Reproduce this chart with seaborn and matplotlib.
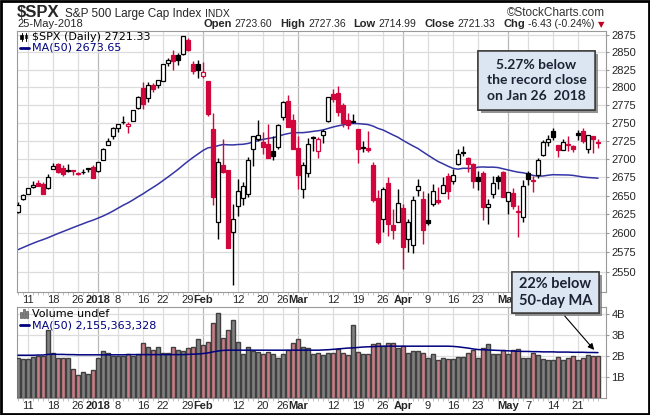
import numpy as np
import pandas as pd
import matplotlib
matplotlib.use("Agg")
import matplotlib.pyplot as plt
import matplotlib.patheffects as pe
from matplotlib.patches import Rectangle, FancyArrowPatch
from matplotlib.lines import Line2D
from matplotlib.ticker import FixedLocator, FixedFormatter, NullLocator
import seaborn as sns

# ---- data: S&P 500 daily, 7-Dec-2017 .. 25-May-2018 ----
holidays = ["2017-12-25", "2018-01-01", "2018-01-15", "2018-02-19", "2018-03-30"]
days = pd.bdate_range("2017-12-07", "2018-05-25").difference(pd.to_datetime(holidays))

# closes before the window (28-Sep .. 6-Dec-2017), only used for the 50-day MA
pre_closes = [2510.06, 2519.36,
              2529.12, 2534.58, 2537.74, 2552.07, 2549.33, 2544.73, 2550.64, 2555.24, 2550.93, 2553.17,
              2557.64, 2559.36, 2561.26, 2562.10, 2575.21, 2564.98, 2569.13, 2557.15, 2560.40, 2581.07,
              2572.83, 2575.26,
              2579.36, 2579.85, 2587.84, 2591.13, 2590.64, 2594.38, 2584.62, 2582.30, 2584.84, 2578.87,
              2564.62, 2585.64, 2578.85, 2582.14, 2599.03, 2597.08, 2602.42, 2601.42, 2627.04, 2626.07,
              2647.58,
              2642.22, 2639.44, 2629.57, 2629.27]

opens = [2628.4, 2646.2, 2652.2, 2661.7, 2667.6, 2665.9, 2660.6, 2685.9, 2692.7, 2688.2, 2683.0, 2684.2,
         2679.1, 2682.1, 2686.1, 2689.2,
         2683.7, 2697.9, 2719.3, 2731.3, 2742.7, 2751.2, 2745.6, 2753.0, 2770.2, 2799.0, 2785.0, 2802.4,
         2802.6, 2809.2, 2835.1, 2845.4, 2846.2, 2847.5, 2867.2, 2832.7, 2832.4,
         2816.5, 2808.9, 2741.1, 2614.8, 2691.0, 2685.0, 2601.8, 2636.8, 2646.3, 2651.8, 2713.5, 2727.1,
         2723.0, 2720.5, 2710.4, 2715.8, 2757.4, 2780.5, 2753.8,
         2715.2, 2658.9, 2681.1, 2730.2, 2710.2, 2732.8, 2752.9, 2790.5, 2792.3, 2774.1, 2754.3, 2750.6,
         2741.4, 2715.1, 2715.0, 2691.4, 2646.7, 2619.4, 2667.6, 2611.3, 2614.4,
         2633.5, 2592.2, 2584.0, 2657.4, 2645.8, 2617.2, 2638.4, 2643.9, 2653.8, 2676.9, 2670.1, 2692.7,
         2710.1, 2701.2, 2692.6, 2675.4, 2680.8, 2634.9, 2651.7, 2675.5, 2682.5,
         2643.0, 2654.2, 2628.1, 2621.5, 2680.3, 2670.3, 2678.1, 2705.0, 2722.7, 2738.5, 2718.6, 2712.6,
         2719.7, 2717.4, 2735.4, 2738.3, 2714.0, 2730.9, 2723.60]
highs = [2641.0, 2651.7, 2660.3, 2669.7, 2671.9, 2668.1, 2679.6, 2695.0, 2694.4, 2691.0, 2692.6, 2685.4,
         2682.7, 2685.6, 2687.7, 2692.1,
         2695.9, 2714.4, 2729.3, 2743.5, 2748.5, 2759.1, 2750.8, 2767.6, 2787.9, 2807.5, 2807.0, 2805.8,
         2810.3, 2833.0, 2842.2, 2853.0, 2848.6, 2872.9, 2870.6, 2837.8, 2839.3,
         2836.0, 2808.9, 2763.4, 2701.0, 2727.7, 2685.3, 2638.7, 2672.6, 2668.8, 2702.1, 2731.5, 2754.4,
         2737.6, 2747.8, 2731.3, 2747.8, 2780.0, 2789.2, 2761.5,
         2730.9, 2696.3, 2728.1, 2732.1, 2730.6, 2740.5, 2786.6, 2797.0, 2801.9, 2777.1, 2763.0, 2761.9,
         2741.4, 2724.2, 2739.1, 2695.7, 2657.7, 2661.4, 2674.8, 2632.7, 2659.1,
         2638.3, 2619.1, 2649.9, 2672.1, 2656.9, 2653.6, 2665.5, 2661.4, 2674.7, 2680.3, 2686.5, 2713.3,
         2717.5, 2702.8, 2693.9, 2682.9, 2683.6, 2645.3, 2676.5, 2677.4, 2682.9,
         2655.3, 2660.9, 2637.1, 2670.9, 2683.4, 2676.3, 2701.3, 2726.1, 2732.9, 2742.1, 2718.6, 2727.0,
         2732.0, 2719.5, 2739.2, 2742.2, 2733.3, 2732.0, 2727.36]
lows = [2626.5, 2644.1, 2652.0, 2659.8, 2662.9, 2652.0, 2659.1, 2685.9, 2680.7, 2676.1, 2682.4, 2678.1,
        2678.0, 2678.9, 2682.7, 2673.6,
        2682.4, 2697.8, 2719.1, 2727.9, 2737.6, 2747.9, 2736.1, 2752.8, 2769.6, 2768.6, 2778.4, 2792.6,
        2798.1, 2808.1, 2830.6, 2824.8, 2830.9, 2846.2, 2851.5, 2818.3, 2813.0,
        2812.7, 2760.0, 2638.2, 2593.1, 2681.3, 2580.6, 2532.7, 2622.5, 2637.1, 2648.9, 2689.8, 2725.1,
        2706.8, 2701.3, 2697.8, 2713.7, 2753.8, 2744.2, 2713.5,
        2659.7, 2647.3, 2675.8, 2711.3, 2701.7, 2721.2, 2751.5, 2779.3, 2758.7, 2744.4, 2741.5, 2750.0,
        2694.6, 2710.1, 2709.8, 2641.6, 2585.9, 2601.8, 2596.1, 2593.1, 2614.4,
        2553.8, 2575.5, 2573.6, 2649.6, 2586.3, 2610.8, 2635.8, 2639.3, 2653.8, 2645.1, 2665.2, 2692.1,
        2703.6, 2681.9, 2660.6, 2658.0, 2617.3, 2612.7, 2647.2, 2659.0, 2648.0,
        2625.4, 2631.7, 2594.6, 2615.3, 2664.7, 2655.2, 2674.1, 2704.5, 2717.5, 2725.5, 2701.9, 2712.2,
        2711.4, 2709.2, 2725.7, 2721.9, 2707.4, 2707.4, 2714.99]
closes = [2637.0, 2651.5, 2660.0, 2664.1, 2662.9, 2652.0, 2675.8, 2690.2, 2681.5, 2679.3, 2684.6, 2683.3,
          2680.5, 2682.6, 2687.5, 2673.6,
          2695.8, 2713.1, 2724.0, 2743.2, 2747.7, 2751.3, 2748.2, 2767.6, 2786.2, 2776.4, 2802.6, 2798.0,
          2810.3, 2833.0, 2839.1, 2837.5, 2839.3, 2872.9, 2853.5, 2822.4, 2823.8,
          2822.0, 2762.1, 2648.9, 2695.1, 2681.7, 2581.0, 2619.6, 2656.0, 2662.9, 2698.6, 2731.2, 2732.2,
          2716.3, 2701.3, 2704.0, 2747.3, 2779.6, 2744.3, 2713.8,
          2677.7, 2691.3, 2720.9, 2728.1, 2726.8, 2739.0, 2786.6, 2783.0, 2765.3, 2749.5, 2747.3, 2752.0,
          2712.9, 2716.9, 2711.9, 2643.7, 2588.3, 2658.6, 2612.6, 2605.0, 2640.9,
          2581.9, 2614.5, 2644.7, 2662.8, 2604.5, 2613.2, 2656.9, 2642.2, 2664.0, 2656.3, 2677.8, 2706.4,
          2708.6, 2693.1, 2670.1, 2670.3, 2634.6, 2639.4, 2666.9, 2669.9, 2648.1,
          2654.8, 2635.7, 2629.7, 2663.4, 2672.6, 2671.9, 2697.8, 2723.1, 2727.7, 2730.1, 2711.5, 2722.5,
          2720.1, 2713.0, 2733.0, 2724.4, 2733.3, 2727.76, 2721.33]

# volume in billions
volume_b = [1.92, 1.83, 1.83, 1.95, 1.99, 1.99, 3.22, 2.16, 1.92, 1.92, 1.92, 1.40, 1.07, 1.22, 1.13, 1.35,
            1.88, 2.22, 2.16, 1.99, 1.99, 1.99, 2.08, 1.99, 2.11, 2.59, 2.40, 2.30, 2.40, 2.16, 2.16, 2.43,
            2.30, 2.24, 2.35, 2.40, 2.78, 2.50, 2.67, 3.54, 4.02, 2.83, 3.22, 3.70, 2.64, 2.08, 2.40, 2.24,
            2.19, 2.11, 2.19, 2.11, 1.88, 2.11, 2.30, 2.59, 2.78, 2.40, 2.35, 2.08, 2.16, 2.03, 2.16, 2.16,
            2.32, 2.16, 2.03, 3.46, 2.19, 2.11, 2.11, 2.54, 2.59, 2.49, 2.59, 2.62, 2.35, 2.46, 2.16, 2.22,
            2.22, 2.16, 1.88, 2.11, 1.80, 1.88, 1.83, 1.83, 1.96, 1.96, 2.14, 2.27, 1.88, 2.38, 2.54, 2.07,
            2.11, 2.30, 2.11, 2.30, 2.33, 1.92, 1.92, 2.14, 2.05, 1.85, 1.80, 1.80, 1.95, 1.80, 1.90, 1.98,
            1.80, 1.90, 2.05, 1.98, 2.00]
# 50-day volume MA
vol_ma_b = [2.03, 2.03, 2.03, 2.03, 2.04, 2.04, 2.07, 2.08,
            2.07, 2.07, 2.06, 2.06, 2.05, 2.05, 2.05, 2.05, 2.05, 2.05, 2.05, 2.05, 2.05, 2.05, 2.06, 2.06,
            2.06, 2.06, 2.06, 2.06, 2.06, 2.06, 2.06, 2.06, 2.06, 2.06, 2.07,
            2.08, 2.09, 2.11, 2.14, 2.19, 2.23, 2.26, 2.27,
            2.27, 2.27, 2.27, 2.27, 2.27, 2.27, 2.27, 2.27, 2.27, 2.27, 2.27, 2.27, 2.27, 2.27, 2.27, 2.27,
            2.27, 2.27,
            2.28, 2.29, 2.31, 2.33, 2.35, 2.37, 2.38, 2.40, 2.42, 2.43, 2.44, 2.45, 2.46,
            2.46, 2.46, 2.46, 2.46, 2.46, 2.46, 2.46, 2.46, 2.46, 2.46, 2.46, 2.46, 2.46,
            2.45, 2.43, 2.40, 2.37, 2.33, 2.30,
            2.29, 2.28, 2.27, 2.26, 2.25, 2.24, 2.23, 2.22, 2.21, 2.21, 2.20, 2.20,
            2.19, 2.19, 2.19, 2.18, 2.18, 2.18, 2.17, 2.17, 2.17, 2.16, 2.16, 2.155]

tick_days = ["2017-12-11", "2017-12-18", "2017-12-26", "2018-01-02", "2018-01-08", "2018-01-16",
             "2018-01-22", "2018-01-29", "2018-02-01", "2018-02-12", "2018-02-20", "2018-02-26",
             "2018-03-01", "2018-03-12", "2018-03-19", "2018-03-26", "2018-04-02", "2018-04-09",
             "2018-04-16", "2018-04-23", "2018-05-01", "2018-05-07", "2018-05-14", "2018-05-21"]
tick_labels = ["11", "18", "26", "2018", "8", "16", "22", "29", "Feb", "12", "20", "26", "Mar",
               "12", "19", "26", "Apr", "9", "16", "23", "May", "7", "14", "21"]
month_labels = {"2018", "Feb", "Mar", "Apr", "May"}
price_ticks = list(range(2550, 2876, 25))
vol_ticks = [1, 2, 3, 4]

# ---- colours ----
RED = "#d0063c"
MA_BLUE = "#3434a4"
VOL_MA = "#00007f"
VRED_FILL, VRED_EDGE = "#d4717d", "#c41f35"
VGRAY_FILL, VGRAY_EDGE = "#808080", "#404040"
GRID = "#dcdcdc"
GRID_DARK = "#b8b8b8"

sns.set_style("white")
plt.rcParams["font.family"] = ["Liberation Sans", "DejaVu Sans"]

W, H = 650, 415
fig = plt.figure(figsize=(W / 100, H / 100), dpi=100)


def fx(px):
    return px / W


def fy(py):
    return 1 - py / H


ax_p = fig.add_axes([fx(17), fy(292), (606 - 17) / W, (292 - 31) / H])
ax_v = fig.add_axes([fx(17), fy(398), (606 - 17) / W, (398 - 307) / H])

opens, highs, lows, closes = map(np.asarray, (opens, highs, lows, closes))
n = len(closes)
idx = np.arange(n)
prev = np.concatenate([[pre_closes[-1]], closes[:-1]])
down = closes < prev
col = np.where(down, RED, "black")
face = np.where(closes >= opens, "white", col)

all_closes = pd.Series(np.concatenate([pre_closes, closes]))
ma50 = all_closes.rolling(50).mean().to_numpy()[len(pre_closes):]

# ---- price panel ----
tick_pos = [days.get_loc(pd.Timestamp(d)) for d in tick_days]
for ax in (ax_p, ax_v):
    for p, lab in zip(tick_pos, tick_labels):
        ax.axvline(p, color=GRID_DARK if lab in month_labels else GRID, lw=0.9, zorder=0)

for v in price_ticks:
    ax_p.axhline(v, color=GRID, lw=0.9, zorder=0)

sns.lineplot(x=idx, y=ma50, ax=ax_p, color=MA_BLUE, lw=1.1, zorder=2)
ax_p.vlines(idx, lows, highs, colors=col, lw=1.0, zorder=3)
ax_p.bar(idx, np.abs(closes - opens), bottom=np.minimum(opens, closes), width=0.8,
         color=face, edgecolor=col, linewidth=0.9, zorder=4)

ax_p.set_yscale("log")
ax_p.set_ylim(2523.8, 2880.8)
ax_p.yaxis.set_major_locator(FixedLocator(price_ticks))
ax_p.yaxis.set_major_formatter(FixedFormatter([str(v) for v in price_ticks]))
ax_p.yaxis.set_minor_locator(NullLocator())

# ---- volume panel ----
vol_df = pd.DataFrame({"day": idx, "vol": volume_b, "dir": np.where(down, "down", "up")})
sns.barplot(data=vol_df, x="day", y="vol", hue="dir", palette={"down": VRED_FILL, "up": VGRAY_FILL},
            native_scale=True, dodge=False, width=0.8, errorbar=None, legend=False,
            linewidth=1.0, ax=ax_v, zorder=3)
for patch in ax_v.patches:
    fc = matplotlib.colors.to_hex(patch.get_facecolor())
    patch.set_edgecolor(VRED_EDGE if fc == VRED_FILL else VGRAY_EDGE)
sns.lineplot(x=idx, y=vol_ma_b, ax=ax_v, color=VOL_MA, lw=1.1, zorder=5)
for v in vol_ticks:
    ax_v.axhline(v, color=GRID, lw=0.9, zorder=0)
ax_v.set_ylim(0, 4.32)
ax_v.yaxis.set_major_locator(FixedLocator(vol_ticks))
ax_v.yaxis.set_major_formatter(FixedFormatter([f"{v}B" for v in vol_ticks]))
ax_v.set_ylabel("")
ax_v.set_xlabel("")

for ax in (ax_p, ax_v):
    ax.set_xlim(-0.2, 117.6)
    ax.set_xticks(tick_pos)
    ax.set_xticklabels(tick_labels)
    for t in ax.get_xticklabels():
        if t.get_text() in month_labels:
            t.set_fontweight("bold")
            t.set_fontsize(9)
    ax.tick_params(axis="x", length=0, pad=2.5, labelsize=8)
    ax.tick_params(axis="y", left=False, labelleft=False, right=True, labelright=True,
                   length=2, color="#999999", pad=2, labelsize=8)
    ax.set_xticks(idx, minor=True)
    ax.tick_params(axis="x", which="minor", bottom=True, length=2, width=0.5, color="#aaaaaa")
    for s in ax.spines.values():
        s.set_color("#9a9a9a")
        s.set_linewidth(0.8)

# ---- header ----
renderer = fig.canvas.get_renderer()


def chain(x_px, y_px, pieces):
    x = x_px
    for s, gap, kw in pieces:
        t = fig.text(fx(x), fy(y_px), s, ha="left", va="baseline", **kw)
        x += t.get_window_extent(renderer).width + gap


chain(17, 17, [("$SPX", 5, dict(fontsize=12, fontweight="bold")),
               ("S&P 500 Large Cap Index", 4, dict(fontsize=8.5)),
               ("INDX", 0, dict(fontsize=7.5))])
fig.text(fx(605), fy(16), "\u00a9StockCharts.com", ha="right", va="baseline", fontsize=8.5, color="#333333")
fig.text(fx(17), fy(27), "25-May-2018", ha="left", va="baseline", fontsize=8)

chg = closes[-1] - closes[-2]
pct = chg / closes[-2] * 100
bold = dict(fontsize=8, fontweight="bold")
norm = dict(fontsize=7.5)
chain(203, 27, [("Open", 3, bold), (f"{opens[-1]:.2f}", 8, norm),
                ("High", 3, bold), (f"{highs[-1]:.2f}", 8, norm),
                ("Low", 3, bold), (f"{lows[-1]:.2f}", 8, norm),
                ("Close", 3, bold), (f"{closes[-1]:.2f}", 8, norm),
                ("Chg", 3, bold), (f"{chg:.2f} ({pct:.2f}%)", 3, norm),
                ("\u25bc", 0, dict(fontsize=6, color="#c00020", family="DejaVu Sans"))])

# ---- legends ----
leg = dict(fontsize=8, family="DejaVu Sans", va="center", ha="left")
fig.text(fx(32), fy(37), "$SPX (Daily) 2721.33", color="black", **leg)
fig.text(fx(32), fy(48), "MA(50) 2673.65", color=VOL_MA, **leg)
fig.text(fx(32), fy(314), "Volume undef", color="black", **leg)
fig.text(fx(32), fy(325), "MA(50) 2,155,363,328", color=VOL_MA, **leg)
for yy in (48, 325):
    fig.add_artist(Line2D([fx(20), fx(29)], [fy(yy), fy(yy)], color=VOL_MA, lw=2))
# candle icon
fig.add_artist(Line2D([fx(21.5), fx(21.5)], [fy(33), fy(41)], color="black", lw=0.7))
fig.add_artist(Rectangle((fx(20.3), fy(39.5)), 2.4 / W, 4.5 / H, transform=fig.transFigure,
                         fc="black", ec="black", lw=0.5))
fig.add_artist(Line2D([fx(26), fx(26)], [fy(33), fy(41)], color="black", lw=0.7))
fig.add_artist(Rectangle((fx(24.8), fy(38.5)), 2.4 / W, 3.5 / H, transform=fig.transFigure,
                         fc="white", ec="black", lw=0.5))
# volume icon
for bx, bh in zip([20, 23, 26], [6, 9, 7]):
    fig.add_artist(Rectangle((fx(bx), fy(318)), 2.2 / W, bh / H, transform=fig.transFigure,
                             fc="#808080", ec="#404040", lw=0.4))

# ---- annotation boxes ----
def note_box(x0, y0, x1, y1, text, fs):
    r = Rectangle((fx(x0), fy(y1)), (x1 - x0) / W, (y1 - y0) / H, transform=fig.transFigure,
                  fc="#dce6f2", ec="#3c3c3c", lw=1.1, zorder=10)
    r.set_path_effects([pe.withSimplePatchShadow(offset=(2.2, -2.2), shadow_rgbFace="#7a7a7a", alpha=0.8),
                        pe.Normal()])
    fig.add_artist(r)
    fig.text(fx((x0 + x1) / 2), fy((y0 + y1) / 2), text, ha="center", va="center", fontsize=fs,
             family=["Lato", "DejaVu Sans"], fontweight="bold", color="#1c2233",
             linespacing=1.35, zorder=11)


note_box(478, 51, 595, 110, "5.27% below\nthe record close\non Jan 26  2018", 10)
note_box(512, 272, 599, 313, "22% below\n50-day MA", 10.5)
fig.add_artist(FancyArrowPatch((fx(563), fy(314)), (fx(596), fy(352)), transform=fig.transFigure,
                               arrowstyle="-|>", mutation_scale=9, color="black", lw=0.8, zorder=12))

# outer frame
fig.add_artist(Rectangle((0.0015, 0.002), 0.997, 0.996, transform=fig.transFigure,
                         fill=False, ec="black", lw=2))

fig.savefig("out.png", dpi=100)
